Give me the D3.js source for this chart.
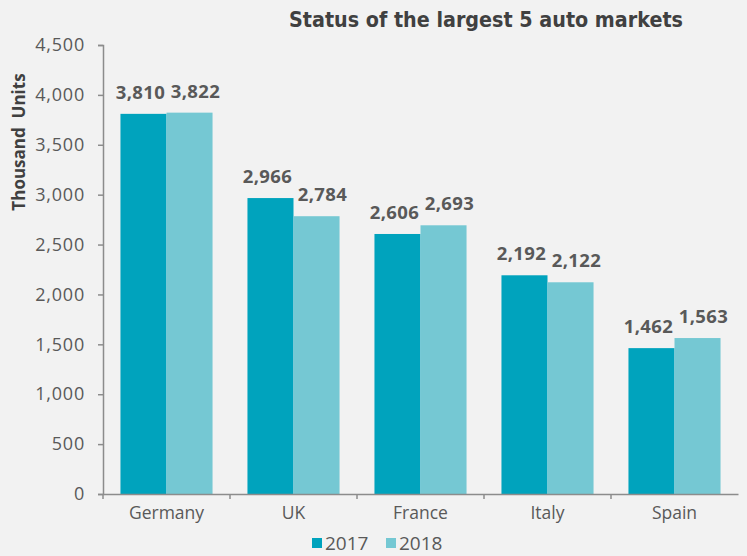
<!DOCTYPE html>
<html>
<head>
<meta charset="utf-8">
<script src="https://cdn.jsdelivr.net/npm/d3@7"></script>
<style>
  body { margin: 0; background: #f2f2f2; }
  svg { display: block; font-family: "Open Sans", "DejaVu Sans", sans-serif; }
</style>
</head>
<body>
<div class="chart"></div>
<script>
const countries = ['Germany', 'UK', 'France', 'Italy', 'Spain']
const years = ['2017', '2018']
const sales2017 = [3810, 2966, 2606, 2192, 1462]
const sales2018 = [3822, 2784, 2693, 2122, 1563]
const yTicks = [0, 500, 1000, 1500, 2000, 2500, 3000, 3500, 4000, 4500]

const width = 747, height = 556
const margin = {top: 45, right: 9, bottom: 62, left: 103}
const colors = ['#00a3bd', '#75c8d3']
const labelShift = [-3, 6]

const svg = d3.select('.chart').append('svg')
  .attr('width', width)
  .attr('height', height)

svg.append('rect').attr('width', width).attr('height', height).attr('fill', '#f2f2f2')

const x = d3.scaleBand()
  .domain(countries)
  .range([margin.left, width - margin.right])
  .paddingInner(0.275)
  .paddingOuter(0.1375)

const xs = d3.scaleBand().domain(years).range([0, x.bandwidth()])

const y = d3.scaleLinear().domain([0, 4500]).range([height - margin.bottom, margin.top])

const rows = countries.map((c, i) => ({country: c, values: [sales2017[i], sales2018[i]]}))

// bars
const g = svg.append('g')
  .selectAll('g')
  .data(rows)
  .join('g')
  .attr('transform', d => `translate(${x(d.country)},0)`)

g.selectAll('rect')
  .data(d => d.values.map((v, j) => ({year: years[j], v, j})))
  .join('rect')
  .attr('x', d => xs(d.year))
  .attr('y', d => y(d.v))
  .attr('width', xs.bandwidth())
  .attr('height', d => y(0) - y(d.v))
  .attr('fill', d => colors[d.j])

g.selectAll('text')
  .data(d => d.values.map((v, j) => ({year: years[j], v, j})))
  .join('text')
  .attr('x', d => xs(d.year) + xs.bandwidth() / 2 + labelShift[d.j])
  .attr('y', d => y(d.v) - 15)
  .attr('text-anchor', 'middle')
  .attr('font-size', 18.5)
  .attr('letter-spacing', 0.4)
  .attr('font-weight', 'bold')
  .attr('fill', '#595959')
  .text(d => d3.format(',')(d.v))

// y axis
const yAxis = svg.append('g')
  .attr('transform', `translate(${margin.left},0)`)
  .call(d3.axisLeft(y).tickValues(yTicks).tickFormat(d3.format(',')).tickSize(5).tickPadding(13))
yAxis.select('.domain').attr('stroke', '#8c8c8c').attr('stroke-width', 1.5)
yAxis.selectAll('.tick line').attr('stroke', '#8c8c8c').attr('stroke-width', 1.5)
yAxis.selectAll('.tick text').attr('font-size', 18).attr('letter-spacing', 0.8).attr('fill', '#595959')
  .attr('font-family', '"Open Sans", sans-serif')

// x axis
const xAxis = svg.append('g')
  .attr('transform', `translate(0,${y(0)})`)
  .call(d3.axisBottom(x).tickSize(0).tickPadding(13))
xAxis.select('.domain').attr('stroke', '#8c8c8c').attr('stroke-width', 1.5)
xAxis.selectAll('.tick text').attr('font-size', 17.5).attr('fill', '#595959')
  .attr('font-family', '"Open Sans", sans-serif')

// category boundary ticks
const step = x.step()
const bounds = d3.range(countries.length + 1).map(i => margin.left + i * step)
svg.append('g').selectAll('line')
  .data(bounds.slice(0, countries.length))
  .join('line')
  .attr('x1', d => d).attr('x2', d => d)
  .attr('y1', y(0)).attr('y2', y(0) + 5)
  .attr('stroke', '#8c8c8c').attr('stroke-width', 1.5)

// title
svg.append('text')
  .attr('x', 486).attr('y', 27)
  .attr('text-anchor', 'middle')
  .attr('font-family', '"DejaVu Sans Condensed", "DejaVu Sans", sans-serif')
  .attr('font-stretch', 'condensed')
  .attr('font-size', 21.3)
  .attr('font-weight', 'bold')
  .attr('fill', '#404040')
  .text('Status of the largest 5 auto markets')

// y title
svg.append('text')
  .attr('transform', 'translate(25,142) rotate(-90)')
  .attr('text-anchor', 'middle')
  .attr('font-size', 17)
  .attr('font-weight', 'bold')
  .attr('fill', '#404040')
  .attr('xml:space', 'preserve')
  .style('white-space', 'pre')
  .text('Thousand  Units')

// legend
const legend = svg.append('g').attr('transform', 'translate(312,550)')
const items = legend.selectAll('g')
  .data(years)
  .join('g')
  .attr('transform', (d, i) => `translate(${i * 74},0)`)
items.append('rect')
  .attr('x', 0).attr('y', -12).attr('width', 10).attr('height', 10)
  .attr('fill', (d, i) => colors[i])
items.append('text')
  .attr('x', 13).attr('y', 0)
  .attr('font-size', 19)
  .attr('fill', '#595959')
  .text(d => d)
</script>
</body>
</html>
